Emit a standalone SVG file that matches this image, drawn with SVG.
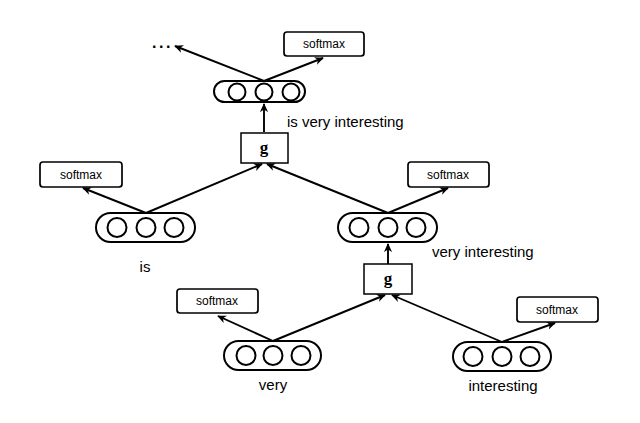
<svg xmlns="http://www.w3.org/2000/svg" width="640" height="423" viewBox="0 0 640 423">
<defs>
<marker id="ah" viewBox="0 0 10 10" refX="9" refY="5" markerWidth="9" markerHeight="9" orient="auto-start-reverse" markerUnits="userSpaceOnUse">
<path d="M0,0.5 L10,5 L0,9.5 L3,5 z" fill="#000"/>
</marker>
<style>
.pill{fill:#fff;stroke:#000;stroke-width:2}
.cir{fill:#fff;stroke:#000;stroke-width:2}
.sm{fill:#fff;stroke:#000;stroke-width:1.7}
.smt{font-family:"Liberation Sans",Arial,sans-serif;font-size:12px;text-anchor:middle;fill:#000}
.g{fill:#fff;stroke:#000;stroke-width:1.5}
.gt{font-family:"Liberation Serif","Times New Roman",serif;font-size:17px;font-weight:bold;text-anchor:middle;fill:#000}
.lbl{font-family:"Liberation Sans",Arial,sans-serif;font-size:15px;fill:#000}
.con{stroke:#000;stroke-width:1.9;fill:none;marker-end:url(#ah)}
</style>
</defs>
<rect width="640" height="423" fill="#fff"/>
<g id="connectors">
<line class="con" x1="264" y1="81" x2="175" y2="46"/>
<line class="con" x1="264" y1="81" x2="323" y2="58"/>
<line class="con" x1="264" y1="132" x2="264" y2="104"/>
<line class="con" x1="146" y1="213" x2="83" y2="188"/>
<line class="con" x1="146" y1="213" x2="262" y2="164"/>
<line class="con" x1="388" y1="213" x2="267" y2="164"/>
<line class="con" x1="388" y1="213" x2="448" y2="188"/>
<line class="con" x1="388" y1="264" x2="388" y2="244"/>
<line class="con" x1="273" y1="341" x2="218" y2="316"/>
<line class="con" x1="273" y1="341" x2="385" y2="295"/>
<line class="con" x1="502" y1="342" x2="392" y2="295"/>
<line class="con" x1="502" y1="342" x2="555" y2="323"/>
</g>
<g id="dots">
<text x="152" y="48" style="font-family:'Liberation Sans',Arial,sans-serif;font-size:16px;font-weight:bold;letter-spacing:2.5px">...</text>
</g>
<g id="softmax_top">
<rect class="sm" x="284" y="32" width="80" height="24" rx="3"/>
<text class="smt" x="324" y="48">softmax</text>
</g>
<g id="node_top">
<rect class="pill" x="214" y="81" width="91" height="21" rx="10.5"/>
<circle class="cir" cx="237" cy="92" r="8.5"/>
<circle class="cir" cx="264" cy="92" r="8.5"/>
<circle class="cir" cx="291" cy="92" r="8.5"/>
<text class="lbl" x="287" y="127">is very interesting</text>
</g>
<g id="g_top">
<rect class="g" x="241" y="133" width="47" height="30"/>
<text class="gt" x="264" y="153">g</text>
</g>
<g id="softmax_left">
<rect class="sm" x="40" y="162" width="82" height="25" rx="3"/>
<text class="smt" x="81" y="179">softmax</text>
</g>
<g id="node_is">
<rect class="pill" x="96" y="213" width="99" height="29" rx="14.5"/>
<circle class="cir" cx="117" cy="227.5" r="9.5"/>
<circle class="cir" cx="146" cy="227.5" r="9.5"/>
<circle class="cir" cx="174" cy="227.5" r="9.5"/>
<text class="lbl" x="145" y="272" text-anchor="middle">is</text>
</g>
<g id="softmax_mid">
<rect class="sm" x="408" y="162" width="81" height="25" rx="3"/>
<text class="smt" x="448" y="179">softmax</text>
</g>
<g id="node_very_interesting">
<rect class="pill" x="338" y="213" width="99" height="29" rx="14.5"/>
<circle class="cir" cx="359" cy="227.5" r="9.5"/>
<circle class="cir" cx="388" cy="227.5" r="9.5"/>
<circle class="cir" cx="416" cy="227.5" r="9.5"/>
<text class="lbl" x="432" y="257">very interesting</text>
</g>
<g id="g_low">
<rect class="g" x="364" y="264" width="48" height="30"/>
<text class="gt" x="388" y="284">g</text>
</g>
<g id="softmax_very">
<rect class="sm" x="177" y="289" width="81" height="24" rx="3"/>
<text class="smt" x="217" y="305">softmax</text>
</g>
<g id="node_very">
<rect class="pill" x="224" y="341" width="97" height="29" rx="14.5"/>
<circle class="cir" cx="246" cy="355.5" r="9.5"/>
<circle class="cir" cx="273" cy="355.5" r="9.5"/>
<circle class="cir" cx="301" cy="355.5" r="9.5"/>
<text class="lbl" x="273" y="390" text-anchor="middle">very</text>
</g>
<g id="softmax_interesting">
<rect class="sm" x="517" y="297" width="81" height="25" rx="3"/>
<text class="smt" x="557" y="314">softmax</text>
</g>
<g id="node_interesting">
<rect class="pill" x="453" y="342" width="98" height="29" rx="14.5"/>
<circle class="cir" cx="473" cy="356.5" r="9.5"/>
<circle class="cir" cx="502" cy="356.5" r="9.5"/>
<circle class="cir" cx="530" cy="356.5" r="9.5"/>
<text class="lbl" x="503" y="391" text-anchor="middle">interesting</text>
</g>
</svg>
